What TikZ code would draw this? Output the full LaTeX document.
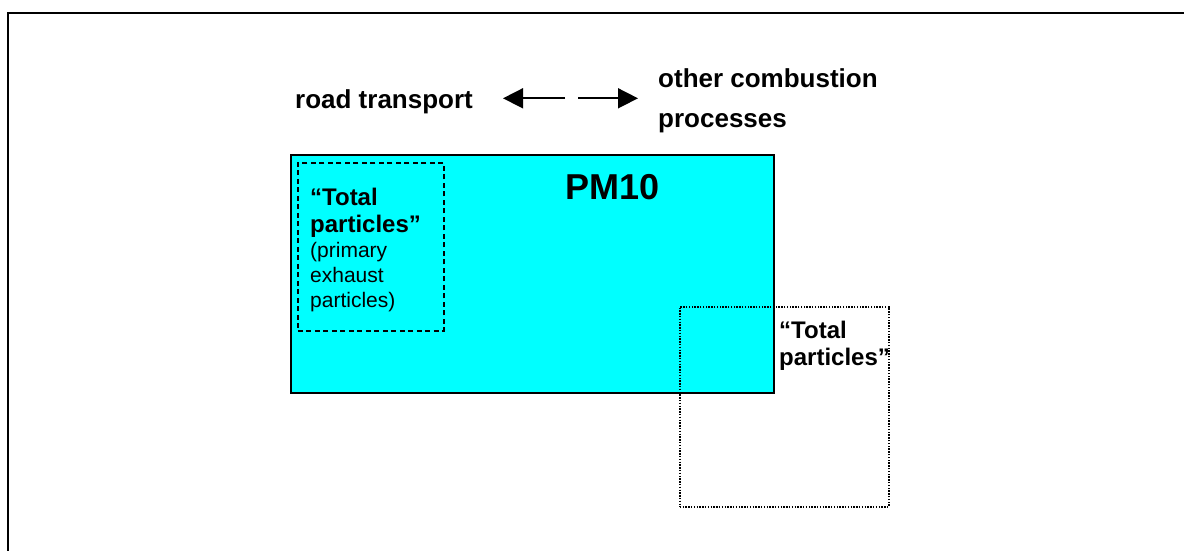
\documentclass[tikz,border=0pt]{standalone}
\usepackage{fontspec}
\setmainfont{Liberation Sans}
\usetikzlibrary{arrows.meta}
\definecolor{pmcyan}{RGB}{0,255,255}
\tikzset{
  % multi-line labels are placed by the baseline of their last line
  label/.style={inner sep=0pt, anchor=base west, align=left},
  bigtext/.style={label, font=\bfseries\fontsize{26}{40}\selectfont},
  boxtitle/.style={label, font=\bfseries\fontsize{24}{26.5}\selectfont},
  flow/.style={line width=1.6pt, -{Triangle[length=20pt, width=20pt]}},
  pmbox/.style={draw=black, line width=1.8pt, fill=pmcyan, inner sep=0pt, anchor=north west},
  exhaustbox/.style={draw=black, line width=1.8pt, dash pattern=on 5pt off 3.5pt, inner sep=0pt, anchor=north west},
  otherbox/.style={draw=black, line width=1.5pt, dash pattern=on 1.4pt off 1.4pt, inner sep=0pt, anchor=north west},
}
\begin{document}
\begin{tikzpicture}[x=1pt, y=-1pt]
\useasboundingbox (0,0) rectangle (1184,551);
% page frame (only top and left edges fall inside the picture)
\draw[line width=2pt] (1195,13.5) -- (7.7,13.5) -- (7.7,560);

% PM10 area
\node[pmbox, minimum width=483pt, minimum height=238pt] (pm) at (290,154) {};
\node[label, font=\bfseries\fontsize{36}{40}\selectfont] (pmlabel) at (565,199) {PM10};

% road transport exhaust particles
\node[exhaustbox, minimum width=146pt, minimum height=168pt] (exh) at (297,162) {};
\node[boxtitle] (exhtitle) at (310,232) {“Total\\particles”};
\node[label, font=\fontsize{21}{25}\selectfont] (exhnote) at (310,307) {(primary\\exhaust\\particles)};

% other combustion particles
\node[otherbox, minimum width=209pt, minimum height=200pt] (oth) at (679,306) {};
\node[boxtitle] (othtitle) at (779,365) {“Total\\particles”};

% sources
\node[bigtext] (road) at (295,108) {road transport};
\node[bigtext] (comb) at (658,128) {other combustion\\processes};

\coordinate (lstart) at (565,98.3);
\coordinate (lend) at (503,98.3);
\coordinate (rstart) at (578,98.3);
\coordinate (rend) at (638,98.3);
\draw[flow] (lstart) -- (lend);
\draw[flow] (rstart) -- (rend);
\end{tikzpicture}
\end{document}
